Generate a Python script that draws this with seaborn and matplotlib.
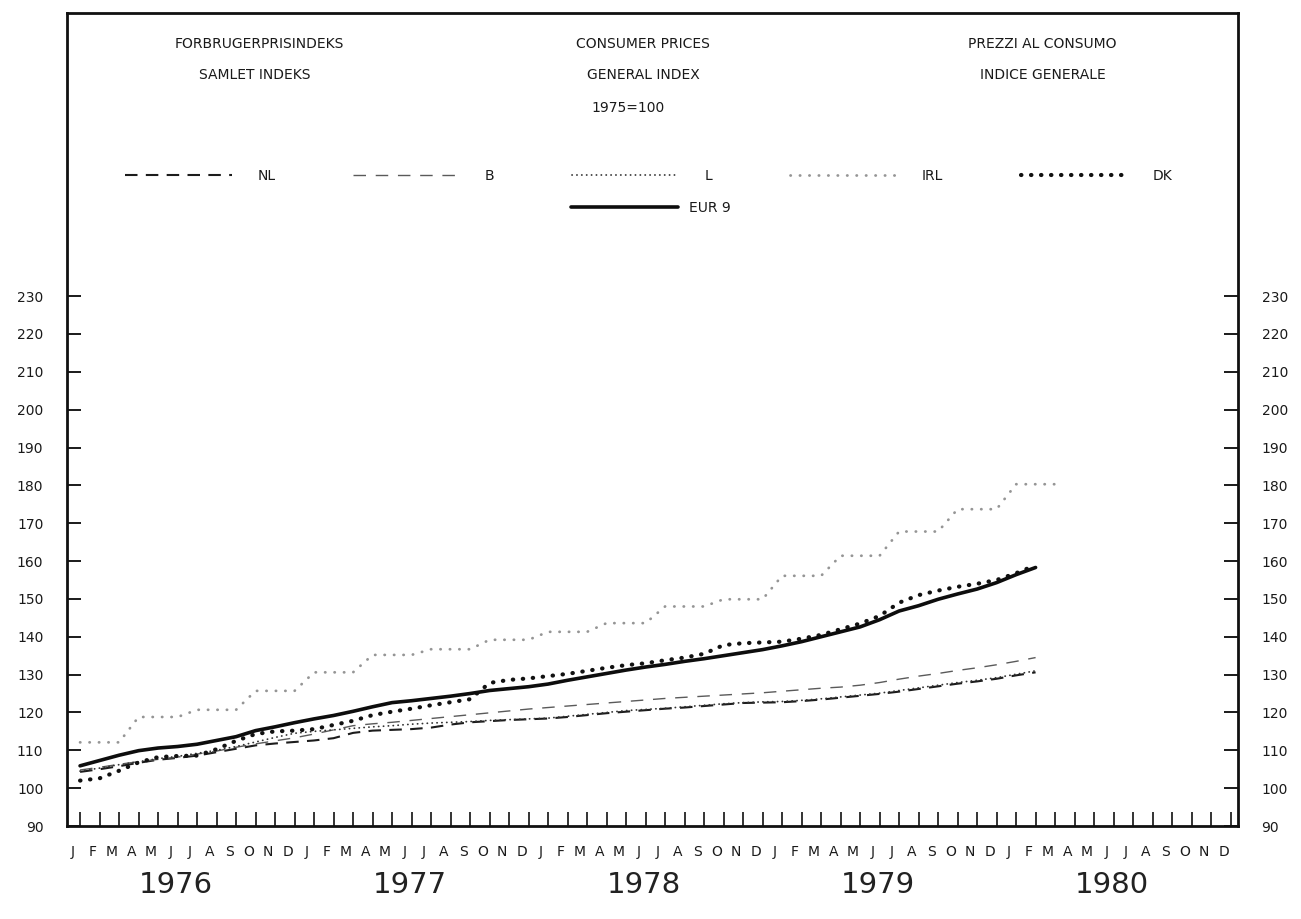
import numpy as np
import pandas as pd
import matplotlib
matplotlib.use("Agg")
import matplotlib.pyplot as plt
import matplotlib.transforms as mtransforms
import seaborn as sns

# month letters along the x axis, 1976-1980
MONTH_LETTERS = ["J", "F", "M", "A", "M", "J", "J", "A", "S", "O", "N", "D"]
YEARS = ["1976", "1977", "1978", "1979", "1980"]
Y_TICKS = [90, 100, 110, 120, 130, 140, 150, 160, 170, 180, 190, 200, 210, 220, 230]

# consumer price index, 1975=100, monthly from Jan 1976
eur9 = [105.9, 107.3, 108.7, 109.9, 110.6, 111.0, 111.6, 112.6, 113.6, 115.2,
        116.2, 117.3, 118.3, 119.2, 120.3, 121.5, 122.6, 123.1, 123.7, 124.3,
        125.0, 125.8, 126.3, 126.8, 127.5, 128.5, 129.4, 130.3, 131.2, 132.0,
        132.7, 133.5, 134.2, 135.0, 135.8, 136.6, 137.6, 138.7, 140.0, 141.3,
        142.6, 144.5, 146.8, 148.2, 149.9, 151.3, 152.6, 154.3, 156.4, 158.3]

dk = [102.0, 102.6, 104.6, 106.8, 108.2, 108.5, 108.6, 110.3, 112.5, 114.3,
      115.0, 115.2, 115.6, 116.7, 117.8, 119.3, 120.2, 121.0, 121.9, 122.7,
      123.5, 127.8, 128.6, 129.0, 129.6, 130.2, 131.0, 131.8, 132.5, 133.0,
      133.8, 134.5, 135.5, 137.8, 138.3, 138.5, 138.7, 139.5, 140.5, 142.0,
      143.5, 145.5, 149.0, 151.0, 152.2, 153.2, 154.0, 155.0, 156.8, 158.9]

irl = [112.1, 112.1, 112.1, 118.8, 118.8, 118.8, 120.7, 120.7, 120.7, 125.7,
       125.7, 125.7, 130.6, 130.6, 130.6, 135.2, 135.2, 135.2, 136.7, 136.7,
       136.7, 139.2, 139.2, 139.2, 141.3, 141.3, 141.3, 143.6, 143.6, 143.6,
       148.0, 148.0, 148.0, 149.9, 149.9, 149.9, 156.1, 156.1, 156.1, 161.4,
       161.4, 161.4, 167.8, 167.8, 167.8, 173.7, 173.7, 173.7, 180.3, 180.3,
       180.3]

nl = [104.3, 105.0, 105.8, 106.7, 107.5, 108.0, 108.6, 109.5, 110.4, 111.3,
      111.8, 112.2, 112.6, 113.2, 114.6, 115.2, 115.4, 115.6, 116.0, 116.8,
      117.4, 117.7, 118.0, 118.2, 118.4, 118.8, 119.3, 119.8, 120.2, 120.6,
      121.0, 121.3, 121.7, 122.1, 122.5, 122.6, 122.7, 123.0, 123.4, 123.9,
      124.4, 124.9, 125.5, 126.2, 126.9, 127.6, 128.2, 128.9, 129.8, 130.6]

b = [104.8, 105.5, 106.3, 107.0, 107.6, 108.2, 109.0, 109.8, 110.8, 111.7,
     112.5, 113.3, 114.3, 115.4, 116.5, 117.0, 117.4, 117.9, 118.4, 118.9,
     119.4, 119.9, 120.4, 120.9, 121.3, 121.7, 122.1, 122.5, 122.9, 123.3,
     123.7, 124.0, 124.3, 124.6, 124.9, 125.2, 125.6, 126.0, 126.4, 126.7,
     127.2, 127.9, 128.8, 129.6, 130.3, 131.1, 131.8, 132.6, 133.5, 134.5]

lux = [104.5, 105.3, 106.2, 107.0, 107.8, 108.4, 109.2, 110.0, 111.0, 112.2,
       113.4, 114.5, 115.0, 115.4, 115.8, 116.2, 116.5, 116.9, 117.2, 117.4,
       117.6, 117.9, 118.1, 118.3, 118.5, 119.0, 119.5, 120.0, 120.5, 120.8,
       121.1, 121.5, 121.9, 122.3, 122.6, 122.8, 122.9, 123.2, 123.6, 124.1,
       124.6, 125.1, 125.8, 126.5, 127.2, 127.9, 128.5, 129.2, 130.1, 131.0]

# name, values, line style
series = [
    ("NL", nl, dict(color="#1c1c1c", linewidth=1.5, linestyle=(0, (6, 4)))),
    ("B", b, dict(color="#5a5a5a", linewidth=1.0, linestyle=(0, (9, 7)))),
    ("L", lux, dict(color="#333333", linewidth=1.3, linestyle=(0, (0.1, 2.6)),
                    dash_capstyle="round")),
    ("IRL", irl, dict(color="#959595", linewidth=2.0, linestyle=(0, (0.1, 3.3)),
                      dash_capstyle="round")),
    ("DK", dk, dict(color="#111111", linewidth=3.0, linestyle=(0, (0.1, 2.3)),
                    dash_capstyle="round")),
    ("EUR 9", eur9, dict(color="#0d0d0d", linewidth=2.6, linestyle="-")),
]

sns.set_style("white")
plt.rcParams["font.family"] = ["DejaVu Sans"]
plt.rcParams["text.color"] = "#1a1a1a"

fig = plt.figure(figsize=(13.01, 9.19), dpi=100)
ax = fig.add_axes([67 / 1301, 93 / 919, 1171 / 1301, 813 / 919])

handles = {}
for name, vals, style in series:
    df = pd.DataFrame({"month": np.arange(len(vals)), "index": vals})
    sns.lineplot(data=df, x="month", y="index", ax=ax, legend=False, **style)
    handles[name] = ax.get_lines()[-1]

ax.set_xlim(-0.67, 59.38)
ax.set_ylim(90, 304.8)
ax.set_xlabel("")
ax.set_ylabel("")

# frame
for side in ["left", "right", "top", "bottom"]:
    ax.spines[side].set_visible(True)
    ax.spines[side].set_color("#111111")
    ax.spines[side].set_linewidth(2.0)

# y axis labels on both sides, ticks pointing in
ax.set_yticks(Y_TICKS)
ax.set_yticklabels([str(v) for v in Y_TICKS])
ax.tick_params(axis="y", which="major", direction="in", length=10, width=1.4,
               left=True, right=True, labelleft=True, labelright=True,
               pad=17, labelsize=10, colors="#1a1a1a")

# month ticks (minor) and month letters (major, no mark)
n_months = 12 * len(YEARS)
ax.set_xticks(np.arange(n_months), minor=True)
ax.set_xticks(np.arange(n_months) - 0.36)
ax.set_xticklabels(MONTH_LETTERS * len(YEARS))
ax.tick_params(axis="x", which="minor", direction="in", length=10, width=1.2,
               bottom=True, color="#111111")
ax.tick_params(axis="x", which="major", length=0, pad=14, labelsize=10,
               labelcolor="#1a1a1a")

# year labels under the month letters
trans = mtransforms.blended_transform_factory(ax.transData, ax.transAxes)
for k, yr in enumerate(YEARS):
    ax.text(12 * k + 4.9, -0.073, yr, transform=trans, ha="center", va="center",
            fontsize=21, color="#222222")

# heading in three languages
head_kw = dict(transform=ax.transAxes, ha="center", va="center", fontsize=10)
ax.text(0.164, 0.962, "FORBRUGERPRISINDEKS", **head_kw)
ax.text(0.160, 0.924, "SAMLET INDEKS", **head_kw)
ax.text(0.492, 0.962, "CONSUMER PRICES", **head_kw)
ax.text(0.492, 0.924, "GENERAL INDEX", **head_kw)
ax.text(0.479, 0.883, "1975=100", **head_kw)
ax.text(0.833, 0.962, "PREZZI AL CONSUMO", **head_kw)
ax.text(0.833, 0.924, "INDICE GENERALE", **head_kw)

# legend: five countries on one row, EUR 9 below
names = ["NL", "B", "L", "IRL", "DK"]
leg1 = ax.legend([handles[n] for n in names], names, loc="center",
                 bbox_to_anchor=(0.497, 0.800), ncol=5, frameon=False,
                 fontsize=10, handlelength=7.7, handletextpad=1.8,
                 columnspacing=5.6)
ax.add_artist(leg1)
ax.legend([handles["EUR 9"]], ["EUR 9"], loc="center",
          bbox_to_anchor=(0.499, 0.760), frameon=False, fontsize=10,
          handlelength=7.7, handletextpad=0.8)

fig.savefig("out.png", dpi=100, facecolor="white")
